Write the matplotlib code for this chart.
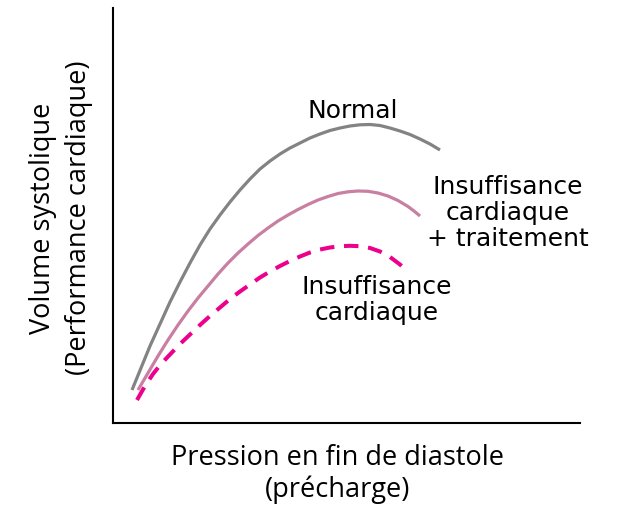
import numpy as np
import matplotlib.pyplot as plt

plt.rcParams['font.family'] = ['Open Sans', 'DejaVu Sans']

W, H = 625, 515
# axis frame in picture pixels
X0, X1, Y0, Y1 = 113, 580, 423, 8

# curves (pixel x, pixel y)
normal_x = [132, 141, 150, 160, 170, 180, 190, 200, 210, 220, 230, 240, 250, 260, 270, 280,
            290, 300, 310, 320, 330, 340, 350, 360, 370, 380, 390, 400, 410, 420, 430, 440]
normal_y = [390, 368, 346, 324, 302, 282, 263, 245, 229, 215, 202, 190, 179, 169, 161, 154,
            148, 143, 138, 134, 130.5, 128, 126, 124.8, 124.5, 125.5, 128, 131, 134.5, 139, 144, 150]

treat_x = [138, 148, 158, 168, 178, 188, 198, 208, 218, 228, 238, 248, 258, 268, 278, 288,
           298, 308, 318, 328, 338, 348, 358, 368, 378, 388, 398, 408, 414, 420]
treat_y = [390, 373, 356, 340, 325, 311, 298, 286, 274, 263, 253, 244, 235.5, 228, 221, 215,
           209.5, 204.5, 200, 196.5, 193.5, 191.8, 191, 191.3, 193, 196, 200.5, 206.5, 211, 216]

fail_x = [137, 145, 153, 161, 170, 180, 190, 200, 210, 220, 230, 240, 250, 260, 270, 280,
          290, 300, 310, 320, 330, 340, 350, 360, 370, 380, 390, 400, 407]
fail_y = [400, 386, 374, 364, 354.5, 344, 334.5, 325, 316, 307.5, 299, 291.5, 284.5, 277.5, 271.5, 266,
          261, 256.5, 252.5, 249.5, 247.5, 246.2, 245.8, 246.2, 248, 251.5, 257, 264.5, 271]


def to_data(xs, ys):
    return np.array(xs) - X0, Y0 - np.array(ys)


fig = plt.figure(figsize=(W / 100, H / 100), dpi=100)
ax = fig.add_axes([X0 / W, 1 - Y0 / H, (X1 - X0) / W, (Y0 - Y1) / H])
ax.set_xlim(0, X1 - X0)
ax.set_ylim(0, Y0 - Y1)

x, y = to_data(normal_x, normal_y)
ax.plot(x, y, color='#838383', lw=2.3, solid_capstyle='butt', solid_joinstyle='round')
x, y = to_data(treat_x, treat_y)
ax.plot(x, y, color='#c97fa1', lw=2.3, solid_capstyle='butt', solid_joinstyle='round')
x, y = to_data(fail_x, fail_y)
ax.plot(x, y, color='#ec008c', lw=2.9, dashes=(3.6, 2.4))

for s in ['top', 'right']:
    ax.spines[s].set_visible(False)
for s in ['left', 'bottom']:
    ax.spines[s].set_linewidth(1.5)
ax.set_xticks([])
ax.set_yticks([])


def label(px, py, txt, size=18):
    ax.text(px - X0, Y0 - py, txt, ha='center', va='center', fontsize=size,
            linespacing=1.12, family='DejaVu Sans')


label(353, 111, 'Normal')
label(508, 213, 'Insuffisance\ncardiaque\n+ traitement')
label(377, 300, 'Insuffisance\ncardiaque')

fig.text(338 / W, 1 - 474 / H, 'Pression en fin de diastole\n(précharge)',
         ha='center', va='center', fontsize=19.5, linespacing=1.2)
fig.text(61 / W, 1 - 218 / H, 'Volume systolique\n(Performance cardiaque)',
         ha='center', va='center', fontsize=19.5, linespacing=1.4, rotation=90)

fig.savefig('out.png', dpi=100)
